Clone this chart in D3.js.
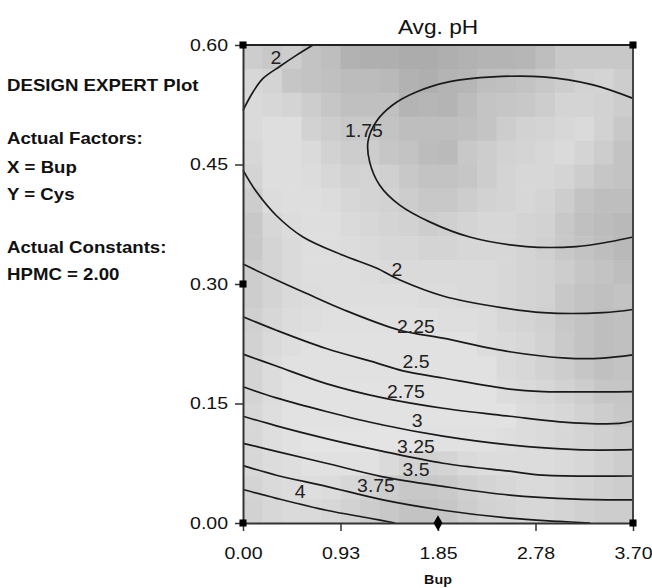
<!DOCTYPE html>
<html>
<head>
<meta charset="utf-8">
<script src="https://cdn.jsdelivr.net/npm/d3@7"></script>
<style>
  body { margin: 0; background: #fff; }
  text { font-family: "Liberation Sans", Arial, sans-serif; fill: #111; }
</style>
</head>
<body>
<script>
// contour plot of Avg. pH over Bup (x) and Cys (y)

// axis ticks
var xTicks = [0, 0.925, 1.85, 2.775, 3.7];
var xTickLabels = ["0.00", "0.93", "1.85", "2.78", "3.70"];
var yTicks = [0, 0.15, 0.30, 0.45, 0.60];

// side notes
var notes = ["DESIGN EXPERT Plot", "Actual Factors:", "X = Bup", "Y = Cys", "Actual Constants:", "HPMC = 2.00"];

// contour levels and their traced lines [Bup, Cys]
var levels = ["2", "1.75", "2", "2.25", "2.5", "2.75", "3", "3.25", "3.5", "3.75", "4"];
var line2a = [[0, 0.518], [0.095, 0.541], [0.190, 0.558], [0.348, 0.573], [0.505, 0.587], [0.664, 0.600]];
var line175 = [[3.70, 0.533], [3.321, 0.550], [2.846, 0.560], [2.372, 0.560], [1.961, 0.554], [1.644, 0.541],
  [1.423, 0.525], [1.265, 0.504], [1.186, 0.479], [1.202, 0.453], [1.297, 0.424], [1.487, 0.399],
  [1.771, 0.378], [2.151, 0.359], [2.688, 0.347], [3.162, 0.347], [3.479, 0.353], [3.70, 0.359]];
var line2b = [[0, 0.443], [0.126, 0.416], [0.316, 0.386], [0.569, 0.359], [0.949, 0.336], [1.265, 0.320],
  [1.489, 0.305], [1.897, 0.285], [2.467, 0.270], [2.846, 0.264], [3.415, 0.264], [3.70, 0.268]];
var line225 = [[0, 0.325], [0.287, 0.307], [0.588, 0.289], [0.949, 0.268], [1.487, 0.242], [1.897, 0.232],
  [2.530, 0.215], [3.067, 0.207], [3.415, 0.207], [3.70, 0.211]];
var line25 = [[0, 0.259], [0.316, 0.242], [0.790, 0.219], [1.265, 0.201], [1.518, 0.191], [1.897, 0.182],
  [2.530, 0.168], [2.846, 0.165], [3.70, 0.165]];
var line275 = [[0, 0.212], [0.316, 0.197], [0.790, 0.175], [1.328, 0.157], [1.897, 0.144], [2.530, 0.134],
  [3.004, 0.127], [3.574, 0.125], [3.70, 0.128]];
var line3 = [[0, 0.171], [0.316, 0.157], [0.790, 0.140], [1.328, 0.123], [1.897, 0.109], [2.530, 0.098],
  [3.162, 0.092], [3.70, 0.092]];
var line325 = [[0, 0.134], [0.316, 0.122], [0.790, 0.106], [1.328, 0.090], [1.897, 0.075], [2.530, 0.065],
  [2.846, 0.060], [3.70, 0.059]];
var line35 = [[0, 0.100], [0.316, 0.090], [0.790, 0.075], [1.328, 0.058], [1.897, 0.046], [2.530, 0.035],
  [3.162, 0.030], [3.70, 0.029]];
var line375 = [[0, 0.072], [0.316, 0.060], [0.790, 0.046], [1.328, 0.029], [1.897, 0.016], [2.530, 0.006],
  [3.004, 0.002], [3.292, 0]];
var line4 = [[0, 0.042], [0.316, 0.031], [0.790, 0.016], [1.202, 0.006], [1.442, 0]];
var contourLines = [line2a, line175, line2b, line225, line25, line275, line3, line325, line35, line375, line4];

// where each level label sits [Bup, Cys]
var labelX = [0.313, 1.148, 1.461, 1.641, 1.641, 1.546, 1.651, 1.641, 1.641, 1.262, 0.541];
var labelY = [0.584, 0.493, 0.318, 0.247, 0.203, 0.165, 0.129, 0.096, 0.067, 0.047, 0.040];

// design points
var designX = [0, 3.7, 0, 0, 3.7, 1.85];
var designY = [0.6, 0.6, 0.3, 0, 0, 0];
var designShape = ["square", "square", "square", "square", "square", "diamond"];

// shading, 20 x 20 grey levels, top row first (Cys 0.60 down to 0)
var shade = [
  [205,200,205,195,190,178,175,175,172,172,175,178,180,180,182,190,200,200,200,200],
  [215,212,198,195,192,188,188,185,178,175,180,182,190,192,195,200,205,210,212,205],
  [218,215,212,205,198,192,192,192,180,182,180,188,196,198,200,205,212,212,210,205],
  [218,222,222,210,205,200,200,195,190,190,190,192,196,205,210,212,215,218,210,200],
  [215,222,222,218,210,205,205,198,195,188,186,200,205,210,212,215,218,212,205,195],
  [212,222,222,220,215,210,212,208,200,195,195,198,205,212,215,215,212,205,198,195],
  [205,220,222,222,220,215,212,210,205,200,200,205,210,212,215,212,205,195,190,190],
  [200,215,220,222,222,218,215,212,210,205,208,212,215,215,212,210,200,192,188,185],
  [200,212,218,222,222,220,218,215,215,212,212,215,215,215,212,208,200,195,190,185],
  [205,212,218,222,222,222,220,218,218,218,218,218,218,215,212,210,205,198,195,190],
  [205,212,218,220,222,222,222,222,222,220,220,218,218,215,212,210,200,195,192,195],
  [208,215,220,222,224,224,224,224,224,224,222,222,220,215,212,208,200,195,190,192],
  [210,218,222,225,225,225,225,225,225,225,225,225,220,218,215,210,202,195,190,192],
  [212,220,225,225,225,225,225,225,225,225,225,225,225,218,215,210,205,198,192,195],
  [212,220,226,226,226,226,226,226,226,226,226,226,226,220,218,215,210,205,198,198],
  [215,222,226,226,226,226,226,226,226,226,226,226,226,226,220,218,215,210,205,200],
  [215,222,225,228,228,228,228,228,228,225,225,225,225,222,220,218,215,212,208,205],
  [215,220,222,225,225,225,225,218,212,210,212,218,220,220,220,220,218,215,210,205],
  [212,218,220,222,220,215,210,205,200,200,202,208,212,215,218,218,215,212,208,205],
  [210,215,218,218,215,210,205,200,195,195,198,205,210,212,215,215,212,208,205,205]
];

var margin = { top: 45, left: 243 };
var width = 390;
var height = 478;

var x = d3.scaleLinear().domain([0, 3.7]).range([0, width]);
var y = d3.scaleLinear().domain([0, 0.6]).range([height, 0]);

var svg = d3.select("body").append("svg")
    .attr("width", 652)
    .attr("height", 588);

var g = svg.append("g")
    .attr("transform", "translate(" + margin.left + "," + margin.top + ")");

// background shading cells
var nCol = shade[0].length;
var nRow = shade.length;
var cells = [];
shade.forEach(function(row, r) {
  row.forEach(function(v, c) { cells.push({ r: r, c: c, v: v }); });
});
g.append("g").selectAll("rect")
    .data(cells)
  .enter().append("rect")
    .attr("x", function(d) { return x(d.c * 3.7 / nCol); })
    .attr("y", function(d) { return y(0.6 - d.r * 0.6 / nRow); })
    .attr("width", x(3.7 / nCol) - x(0) + 0.5)
    .attr("height", y(0) - y(0.6 / nRow) + 0.5)
    .attr("fill", function(d) { return d3.rgb(d.v, d.v, d.v); });

// contour lines
var contourLine = d3.line()
    .x(function(d) { return x(d[0]); })
    .y(function(d) { return y(d[1]); })
    .curve(d3.curveCatmullRom);

g.append("g").selectAll("path")
    .data(contourLines)
  .enter().append("path")
    .attr("d", contourLine)
    .attr("fill", "none")
    .attr("stroke", "#1a1a1a")
    .attr("stroke-width", 1.7);

// level labels
g.append("g").selectAll("text")
    .data(levels)
  .enter().append("text")
    .attr("transform", function(d, i) { return "translate(" + x(labelX[i]) + "," + y(labelY[i]) + ") scale(1.08,1)"; })
    .attr("text-anchor", "middle")
    .attr("dy", "0.36em")
    .style("font-size", "18px")
    .style("fill", "#222")
    .text(function(d) { return d; });

// frame top and right
g.append("line").attr("x1", 0).attr("x2", width).attr("y1", 0).attr("y2", 0)
    .attr("stroke", "#222").attr("stroke-width", 2);
g.append("line").attr("x1", width).attr("x2", width).attr("y1", 0).attr("y2", height)
    .attr("stroke", "#444").attr("stroke-width", 2);

// axes
var xAxis = g.append("g")
    .attr("transform", "translate(0," + height + ")")
    .call(d3.axisBottom(x).tickValues(xTicks)
      .tickFormat(function(d, i) { return xTickLabels[i]; })
      .tickSize(8).tickSizeOuter(0).tickPadding(16));

var yAxis = g.append("g")
    .call(d3.axisLeft(y).tickValues(yTicks).tickFormat(d3.format(".2f"))
      .tickSize(8).tickSizeOuter(0).tickPadding(5));

[xAxis, yAxis].forEach(function(a) {
  a.select(".domain").attr("stroke", "#333").attr("stroke-width", 2);
  a.selectAll(".tick line").attr("stroke", "#333").attr("stroke-width", 1.5);
  a.selectAll(".tick text")
      .style("font-size", "17px")
      .style("font-family", "Liberation Sans, Arial, sans-serif")
      .attr("fill", "#111");
});
xAxis.selectAll(".tick text").attr("transform", "scale(1.15,1)");
yAxis.selectAll(".tick text").attr("transform", "scale(1.15,1)");

// design points
var sym = { square: d3.symbolSquare, diamond: d3.symbolDiamond };
g.append("g").selectAll("path")
    .data(designX)
  .enter().append("path")
    .attr("transform", function(d, i) { return "translate(" + x(d) + "," + y(designY[i]) + ")"; })
    .attr("d", function(d, i) {
      return d3.symbol().type(sym[designShape[i]]).size(designShape[i] == "diamond" ? 70 : 50)();
    })
    .attr("fill", "#000");

// title
svg.append("text")
    .attr("transform", "translate(" + (margin.left + width / 2) + ",34) scale(1.08,1)")
    .attr("text-anchor", "middle")
    .style("font-size", "21px")
    .text("Avg. pH");

// x axis title
svg.append("text")
    .attr("transform", "translate(" + (margin.left + x(1.85)) + ",584) scale(1.1,1)")
    .attr("text-anchor", "middle")
    .style("font-size", "13px")
    .style("font-weight", "bold")
    .text("Bup");

// side notes
var noteY = [91, 144, 173, 200, 253, 280];
svg.append("g").selectAll("text")
    .data(notes)
  .enter().append("text")
    .attr("transform", function(d, i) { return "translate(7," + noteY[i] + ") scale(1.13,1)"; })
    .style("font-size", "16.5px")
    .style("font-weight", "bold")
    .text(function(d) { return d; });
</script>
</body>
</html>
